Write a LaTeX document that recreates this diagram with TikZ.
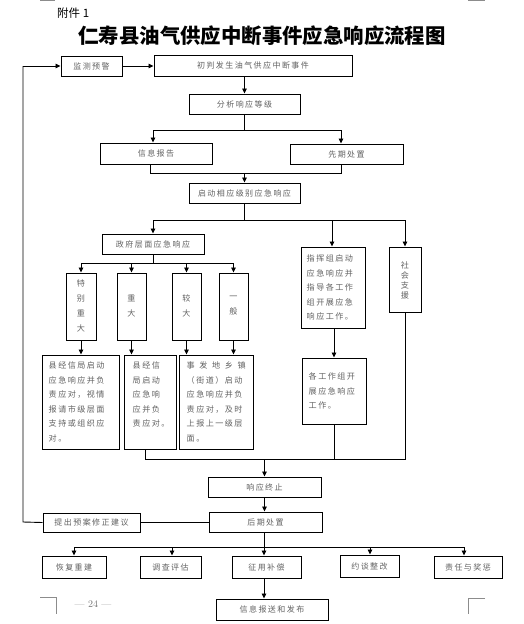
\documentclass[tikz,border=0pt]{standalone}
\usepackage{fontspec}
\usetikzlibrary{arrows.meta,calc}
\newfontfamily\cjk[LetterSpace=18]{Noto Sans CJK SC}
\newfontfamily\cjkplain{Noto Sans CJK SC}
\tikzset{
  bx/.style={draw=black,line width=1pt,inner sep=0pt,minimum width=#1},
  bx/.default=40pt,
  lbl/.style={font=\cjk\fontsize{8}{14.5}\selectfont,text=black!62},
  txt/.style={font=\cjk\fontsize{8.1}{14.5}\selectfont,text=black!62,align=left,inner sep=0pt,anchor=north west},
  vtxt/.style={font=\cjk\fontsize{8.1}{15}\selectfont,text=black!62,align=center,inner sep=0pt},
  ln/.style={line width=0.9pt,black},
  arr/.style={line width=0.9pt,black,-{Triangle[length=5pt,width=4.5pt]}},
  pmark/.style={line width=0.6pt,black!45}
}
\begin{document}
\begin{tikzpicture}[x=1pt,y=-1pt]
\useasboundingbox (0,0) rectangle (523,624);
% page marks
\draw[pmark] (40,0.5) -- (55,0.5);
\draw[pmark] (468,0.5) -- (485,0.5);
\draw[pmark] (40,597) -- (56,597) -- (56,614);
\draw[pmark] (485,598) -- (468,598) -- (468,614);
\node[text=black!55,font=\fontsize{10}{12}\selectfont,inner sep=0pt] (pg) at (93,604) {— 24 —};
% headings
\node[anchor=west,inner sep=0pt,font=\cjkplain\fontsize{11.5}{13}\selectfont] (fj) at (57,13) {附件 1};
\node[inner sep=0pt,font=\cjkplain\bfseries\fontsize{20.4}{22}\selectfont] (title) at (262,36) {仁寿县油气供应中断事件应急响应流程图};
% boxes
\node[bx=61pt,minimum height=20pt,lbl] (jc) at (91.5,66) {监测预警};
\node[bx=198pt,minimum height=21pt,lbl] (cp) at (253,65.5) {初判发生油气供应中断事件};
\node[bx=111pt,minimum height=20pt,lbl] (fx) at (244.5,104) {分析响应等级};
\node[bx=112pt,minimum height=21pt,lbl] (xx) at (156,153.5) {信息报告};
\node[bx=113pt,minimum height=20pt,lbl] (xq) at (346.5,154) {先期处置};
\node[bx=111pt,minimum height=20pt,lbl] (qd) at (244.5,193) {启动相应级别应急响应};
\node[bx=102pt,minimum height=20pt,lbl] (zf) at (153,244) {政府层面应急响应};
\node[bx=64pt,minimum height=81pt] (zh) at (333,287.5) {};
\node[bx=32pt,minimum height=65pt] (sh) at (405,279.5) {};
\node[vtxt] (sht) at (405,280) {社\\[-5pt]会\\[-5pt]支\\[-5pt]援};
\node[bx=30pt,minimum height=67pt] (t1) at (81,306.5) {};
\node[bx=29pt,minimum height=67pt] (t2) at (131.5,306.5) {};
\node[bx=29pt,minimum height=67pt] (t3) at (186.5,306.5) {};
\node[bx=29pt,minimum height=67pt] (t4) at (233.5,306.5) {};
\node[vtxt] (t1t) at (81,305.5) {特\\别\\重\\大};
\node[vtxt] (t2t) at (131.5,305.5) {重\\大};
\node[vtxt] (t3t) at (186.5,305.5) {较\\大};
\node[vtxt] (t4t) at (233.5,305.5) {一\\般};
\node[bx=77pt,minimum height=94pt] (b1) at (80.5,402) {};
\node[bx=52pt,minimum height=94pt] (b2) at (150,402) {};
\node[bx=74pt,minimum height=94pt] (b3) at (216,402) {};
\node[bx=64pt,minimum height=66pt] (gz) at (334,391) {};
\node[txt] (zht) at ($(zh.north west)+(6,8)$) {指挥组启动\\应急响应并\\指导各工作\\组开展应急\\响应工作。};
\node[txt] (b1t) at ($(b1.north west)+(7,7)$) {县经信局启动\\应急响应并负\\责应对，视情\\报请市级层面\\支持或组织应\\对。};
\node[txt] (b2t) at ($(b2.north west)+(9,7)$) {县经信\\局启动\\应急响\\应并负\\责应对。};
\node[txt] (b3t) at ($(b3.north west)+(8,7)$) {事\,\ 发\,\ 地\,\ 乡\,\ 镇\\（街道）启动\\应急响应并负\\责应对，及时\\上报上一级层\\面。};
\node[txt] (gzt) at ($(gz.north west)+(7,15)$) {各工作组开\\展应急响应\\工作。};
\node[bx=113pt,minimum height=20pt,lbl] (zz) at (264.5,487) {响应终止};
\node[bx=113pt,minimum height=20pt,lbl] (hq) at (265.5,522) {后期处置};
\node[bx=97pt,minimum height=19pt,lbl] (tc) at (91.5,522.5) {提出预案修正建议};
\node[bx=64pt,minimum height=22pt,lbl] (r1) at (74,567) {恢复重建};
\node[bx=61pt,minimum height=22pt,lbl] (r2) at (170.5,567) {调查评估};
\node[bx=69pt,minimum height=22pt,lbl] (r3) at (266.5,567) {征用补偿};
\node[bx=59pt,minimum height=22pt,lbl] (r4) at (369.5,566) {约谈整改};
\node[bx=68pt,minimum height=22pt,lbl] (r5) at (468,567) {责任与奖惩};
\node[bx=112pt,minimum height=21pt,lbl] (fb) at (272,609.5) {信息报送和发布};
% junction coordinates
\coordinate (a1) at (153,130); \coordinate (a2) at (341,130);
\coordinate (c1) at (150,173); \coordinate (c2) at (341,173);
\coordinate (d1) at (153,220); \coordinate (d2) at (332,220); \coordinate (d3) at (405,220);
\coordinate (e1) at (81,263); \coordinate (e4) at (233.5,263);
\coordinate (f1) at (145,459); \coordinate (f2) at (405,459);
\coordinate (g0) at (264,547); \coordinate (g1) at (74,547); \coordinate (g2) at (172,547);
\coordinate (g4) at (370,547); \coordinate (g5) at (464,547);
\coordinate (lft) at (23,522); \coordinate (ltop) at (23,66);
% connectors
\draw[arr] (jc.east) -- (jc.east -| cp.west);
\draw[arr] (fx.north |- cp.south) -- (fx.north);
\draw[ln] (fx.south) -- (fx.south |- a1);
\draw[ln] (a1) -- (a2);
\draw[arr] (a1) -- (a1 |- xx.north);
\draw[arr] (a2) -- (a2 |- xq.north);
\draw[ln] (c1 |- xx.south) -- (c1) -- (c2) -- (c2 |- xq.south);
\draw[arr] (qd.north |- c1) -- (qd.north);
\draw[ln] (qd.south) -- (qd.south |- d1);
\draw[ln] (d1) -- (d3);
\draw[arr] (d1) -- (d1 |- zf.north);
\draw[arr] (d2) -- (d2 |- zh.north);
\draw[arr] (d3) -- (sh.north);
\draw[ln] (zf.south) -- (zf.south |- e1);
\draw[ln] (e1) -- (e4);
\draw[arr] (e1) -- (t1.north);
\draw[arr] (t2.north |- e1) -- (t2.north);
\draw[arr] (t3.north |- e1) -- (t3.north);
\draw[arr] (e4) -- (t4.north);
\draw[arr] (t1.south) -- (t1.south |- b1.north);
\draw[arr] (t2.south) -- (t2.south |- b2.north);
\draw[arr] (t3.south) -- (t3.south |- b3.north);
\draw[arr] (t4.south) -- (t4.south |- b3.north);
\draw[arr] (zh.south -| gz.north) -- (gz.north);
\draw[ln] (f1 |- b2.south) -- (f1) -- (f2) -- (sh.south);
\draw[ln] (gz.south) -- (gz.south |- f1);
\draw[arr] (zz.north |- f1) -- (zz.north);
\draw[arr] (zz.south) -- (zz.south |- hq.north);
\draw[ln] (hq.west |- tc.east) -- (tc.east);
\draw[ln] (tc.west) -- (lft) -- (ltop);
\draw[arr] (ltop) -- (ltop -| jc.west);
\draw[ln] (g0 |- hq.south) -- (g0);
\draw[ln] (g1) -- (g5);
\draw[arr] (g1) -- (g1 |- r1.north);
\draw[arr] (g2) -- (g2 |- r2.north);
\draw[arr] (g0) -- (g0 |- r3.north);
\draw[arr] (g4) -- (g4 |- r4.north);
\draw[arr] (g5) -- (g5 |- r5.north);
\draw[arr] (g0 |- r3.south) -- (g0 |- fb.north);
\end{tikzpicture}
\end{document}
